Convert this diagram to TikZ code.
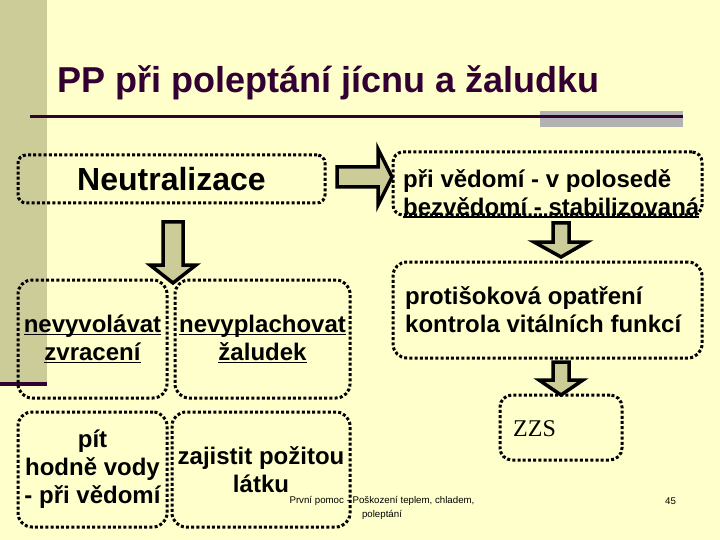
\documentclass[tikz,border=0pt]{standalone}
\usepackage{fontspec}
\setmainfont{Liberation Sans}
\newfontfamily\zzsfont{Liberation Serif}
\usetikzlibrary{positioning}
\definecolor{slidebg}{RGB}{255,255,204}
\definecolor{khaki}{RGB}{204,204,153}
\definecolor{plum}{RGB}{51,0,51}
\definecolor{bandgray}{RGB}{178,178,178}
\newsavebox{\ulbox}
\newcommand{\ulline}[1]{\sbox{\ulbox}{#1}\rlap{\rule[-3pt]{\wd\ulbox}{1.6pt}}\usebox{\ulbox}}
\tikzstyle{box} = [draw, line width=3pt, dash pattern=on 3pt off 2.2pt,
    rounded corners=14pt, inner sep=0pt, align=center,
    font=\fontsize{24}{28}\selectfont\bfseries]
\tikzstyle{rtext} = [inner sep=0pt, align=left, anchor=base west,
    font=\fontsize{24}{28}\selectfont\bfseries]
\tikzstyle{fatarrow} = [draw, line width=3.5pt, fill=khaki, line join=miter]
\tikzstyle{footer} = [inner sep=0pt, align=center, font=\fontsize{9.7}{14}\selectfont]

\begin{document}
\begin{tikzpicture}[x=1pt, y=-1pt]
    % Slide background
    \useasboundingbox (0,0) rectangle (720,540);
    \fill [slidebg] (0,0) rectangle (720,540);
    \fill [khaki] (0,0) rectangle (47,382);
    \draw [plum, line width=4pt] (0,384) -- (47,384);

    % Title and rule
    \node [anchor=base west, inner sep=0pt, text=plum,
        font=\fontsize{36}{40}\selectfont\bfseries] (title) at (57,93)
        {PP při poleptání jícnu a žaludku};
    \fill [bandgray] (540,111) rectangle (683,127);
    \draw [plum, line width=3pt] (30,117) -- (683,117);

    % Place left boxes
    \node [box, rounded corners=8pt, minimum width=307pt, minimum height=48pt,
        font=\fontsize{32}{36}\selectfont\bfseries] (neut) at (171.5,179) {Neutralizace};
    \node [box, minimum width=149pt, minimum height=118pt] (vomit) at (92.5,339)
        {\ulline{nevyvolávat}\\\ulline{zvracení}};
    \node [box, minimum width=175pt, minimum height=118pt] (wash) at (262.5,339)
        {\ulline{nevyplachovat}\\\ulline{žaludek}};
    \node [box, minimum width=149pt, minimum height=115pt] (drink) at (92.5,469.5)
        {pít\\hodně vody\\- při vědomí};
    \node [box, minimum width=178pt, minimum height=115pt] (keep) at (261,469.5)
        {zajistit požitou\\látku};

    % Place right boxes
    \node [box, rounded corners=10pt, minimum width=309pt, minimum height=63pt] (pose) at (547.5,183.5) {};
    \node [box, minimum width=309pt, minimum height=96pt] (shock) at (547.5,310) {};
    \node [box, rounded corners=12pt, minimum width=122pt, minimum height=65pt] (zzs) at (561,427.5) {};
    % (base of a two-line node is its last line)
    \node [rtext] (posetext) at (403,215)
        {při vědomí - v polosedě\\\ulline{bezvědomí - stabilizovaná}};
    \node [rtext] (shocktext) at (405,332)
        {protišoková opatření\\kontrola vitálních funkcí};
    \node [inner sep=0pt, anchor=base west, font=\fontsize{24}{28}\selectfont\zzsfont]
        (zzstext) at (513,436) {ZZS};

    % Draw block arrows
    \path [fatarrow] (337,167) -- (378,167) -- (378,149) -- (392,177)
        -- (378,205) -- (378,187) -- (337,187) -- cycle;
    \path [fatarrow] (163,222) -- (183,222) -- (183,265) -- (196,265)
        -- (173,283) -- (150,265) -- (163,265) -- cycle;
    \path [fatarrow] (553,223) -- (569,223) -- (569,242) -- (587,242)
        -- (561,257) -- (534,242) -- (553,242) -- cycle;
    \path [fatarrow] (553,362) -- (569,362) -- (569,380) -- (583,380)
        -- (561,395) -- (539,380) -- (553,380) -- cycle;

    % Footer
    \node [footer, anchor=base] (foot) at (382,517)
        {První pomoc - Poškození teplem, chladem,\\poleptání};
    \node [footer, anchor=base west] (page) at (665,504) {45};
\end{tikzpicture}
\end{document}
